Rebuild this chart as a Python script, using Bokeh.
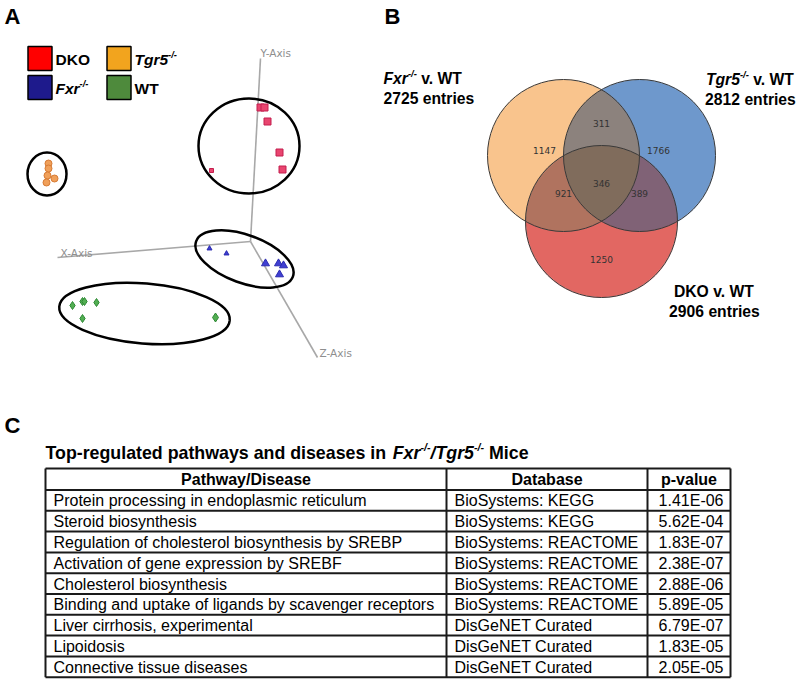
import numpy as np
from bokeh.plotting import figure
from bokeh.models import Range1d
from bokeh.embed import file_html
from bokeh.resources import INLINE
from bokeh.core.properties import value

# ---------------- data ----------------
# Panel A: PCA scores as seen in the projected 3-D view
dko_pc_x = [260, 264, 267, 279, 282, 211]
dko_pc_y = [107, 107, 121, 152, 169, 170]
dko_size = [7, 7, 7, 7, 7, 4]
fxr_pc_x = [209, 226, 265, 278, 283, 279]
fxr_pc_y = [248, 253, 263, 263, 265, 274]
fxr_size = [5, 5, 8, 8, 8, 8]
tgr5_pc_x = [48, 48, 47, 54, 46]
tgr5_pc_y = [163, 168, 175, 178, 182]
tgr5_size = [7, 7, 7, 7, 7]
wt_pc_x = [72, 82, 84, 96, 82, 215]
wt_pc_y = [305, 301, 301, 302, 318, 317]
wt_size = [8, 8, 8, 8, 8, 9]

legend_groups = ["DKO", "Fxr", "Tgr5", "WT"]
legend_colors = ["#FF0000", "#1E1A8C", "#F2A41E", "#4E8A3C"]

# Panel B: Venn diagram
venn_sets = ["Fxr", "Tgr5", "DKO"]
venn_totals = [2725, 2812, 2906]
venn_regions = ["100", "010", "001", "110", "101", "011", "111"]
venn_counts = [1147, 1766, 1250, 311, 921, 389, 346]

# Panel C: table
table_header = ["Pathway/Disease", "Database", "p-value"]
table_pathways = [
    "Protein processing in endoplasmic reticulum",
    "Steroid biosynthesis",
    "Regulation of cholesterol biosynthesis by SREBP",
    "Activation of gene expression by SREBF",
    "Cholesterol biosynthesis",
    "Binding and uptake of ligands by scavenger receptors",
    "Liver cirrhosis, experimental",
    "Lipoidosis",
    "Connective tissue diseases",
]
table_databases = [
    "BioSystems: KEGG", "BioSystems: KEGG",
    "BioSystems: REACTOME", "BioSystems: REACTOME", "BioSystems: REACTOME", "BioSystems: REACTOME",
    "DisGeNET Curated", "DisGeNET Curated", "DisGeNET Curated",
]
table_pvalues = [1.41e-06, 5.62e-04, 1.83e-07, 2.38e-07, 2.88e-06, 5.89e-05, 6.79e-07, 1.83e-05, 2.05e-05]

# ---------------- helpers ----------------
FONT = "Liberation Sans"


def Y(v):
    return [-float(t) for t in np.atleast_1d(v)]


BOLD_W = {' ': 278, '-': 333, '.': 278, '/': 278, 'A': 722, 'B': 722, 'C': 722, 'D': 722, 'E': 667,
          'F': 611, 'G': 778, 'H': 722, 'I': 278, 'K': 722, 'M': 833, 'O': 778, 'P': 667, 'T': 611,
          'W': 944, 'a': 556, 'c': 556, 'd': 611, 'e': 556, 'g': 611, 'h': 611, 'i': 278, 'l': 278,
          'n': 611, 'o': 611, 'p': 611, 'r': 389, 's': 556, 't': 333, 'u': 611, 'v': 556, 'w': 778,
          'x': 556, 'y': 556}
for d in "0123456789":
    BOLD_W[d] = 556


def text_width(s, size):
    return sum(BOLD_W.get(c, 600) for c in s) / 1000.0 * size


p = figure(width=800, height=681, x_range=Range1d(0, 800), y_range=Range1d(-681, 0),
           output_backend="svg", toolbar_location=None, min_border=0,
           x_axis_location=None, y_axis_location=None)
p.grid.visible = False
p.outline_line_color = None
p.background_fill_color = "white"
p.border_fill_color = "white"


def put(x, y, s, size, style="normal", align="left", color="black", font=FONT):
    p.text(x=[x], y=Y(y), text=[s], text_font=value(font), text_font_size=value(f"{size}px"),
           text_font_style=style, text_align=align, text_baseline="middle", text_color=color)


def rich(x, y, parts, size, align="left"):
    # parts: (text, italic, superscript); leading blanks become an x offset
    widths = [text_width(t, size * (0.6 if sup else 1.0)) for t, it, sup in parts]
    x0 = x - sum(widths) / 2.0 if align == "center" else x
    for (t, it, sup), w in zip(parts, widths):
        fs = size * 0.6 if sup else size
        yy = y - size * 0.32 if sup else y
        lead = len(t) - len(t.lstrip(" "))
        put(x0 + text_width(" " * lead, fs), yy, t.strip(" "), round(fs, 2),
            "bold italic" if it else "bold")
        x0 += w


# ---------------- panel letters ----------------
put(4, 15.5, "A", 22, "bold")
put(384, 15.5, "B", 22, "bold")
put(4, 425, "C", 22, "bold")

# ---------------- panel A ----------------
# legend
leg_x = [39.5, 39.5, 118.5, 118.5]
leg_y = [58, 87, 58, 87]
p.rect(x=leg_x, y=Y(leg_y), width=24, height=24, fill_color=legend_colors,
       line_color="black", line_width=1.5)
leg_parts = {
    "DKO": [("DKO", False, False)],
    "Fxr": [("Fxr", True, False), ("-/-", True, True)],
    "Tgr5": [("Tgr5", True, False), ("-/-", True, True)],
    "WT": [("WT", False, False)],
}
for g, lx, ly in zip(legend_groups, leg_x, leg_y):
    rich(lx + 15.5, ly + 1, leg_parts[g], 15.5)

# 3-D axes of the PCA view
p.segment(x0=[250, 250, 250], y0=Y([241, 241, 241]), x1=[260, 57, 317], y1=Y([58, 257, 357]),
          line_color="#A8A8A8", line_width=1.6)
put(260, 52, "Y-Axis", 10.5, color="#8E8E8E", font="DejaVu Sans")
put(60, 252, "X-Axis", 10.5, color="#8E8E8E", font="DejaVu Sans")
put(319, 352, "Z-Axis", 10.5, color="#8E8E8E", font="DejaVu Sans")

# samples
p.scatter(x=dko_pc_x, y=Y(dko_pc_y), size=dko_size, marker="square",
          fill_color="#E8456F", line_color="#C41E4E", line_width=1)
p.scatter(x=fxr_pc_x, y=Y(fxr_pc_y), size=fxr_size, marker="triangle",
          fill_color="#3F3FD2", line_color="#2A2AB0", line_width=1)
p.scatter(x=tgr5_pc_x, y=Y(tgr5_pc_y), size=tgr5_size, marker="circle",
          fill_color="#F0A05A", line_color="#D77B35", line_width=1)
p.scatter(x=wt_pc_x, y=Y(wt_pc_y), size=wt_size, marker="diamond",
          fill_color="#52AE52", line_color="#2F8A35", line_width=1)

# group ellipses
ell_x = [46.5, 248.5, 244, 144]
ell_y = [173.5, 145.5, 258.5, 313]
ell_w = [39, 101, 103, 171]
ell_h = [43, 95, 48, 60]
ell_a = [0, 0, -0.35, -0.08]
p.ellipse(x=ell_x, y=Y(ell_y), width=ell_w, height=ell_h, angle=ell_a,
          fill_color=None, line_color="black", line_width=2.5)

# ---------------- panel B: Venn ----------------
cx = np.array([563.0, 639.0, 601.0])
cy = np.array([155.0, 155.0, 221.0])
rad = 76.0
region_rgb = {"000": (255, 255, 255), "100": (249, 196, 141), "010": (110, 152, 204),
              "001": (226, 103, 98), "110": (140, 130, 125), "101": (176, 115, 95),
              "011": (128, 98, 118), "111": (128, 108, 92)}
bx0, bx1, by0, by1 = 485, 717, 77, 299
W, H, ss = bx1 - bx0, by1 - by0, 3
xs = bx0 + (np.arange(W * ss) + 0.5) / ss
ys = by1 - (np.arange(H * ss) + 0.5) / ss      # row 0 = bottom of the picture
XX, YY = np.meshgrid(xs, ys)
inside = [((XX - cx[i]) ** 2 + (YY - cy[i]) ** 2) <= rad ** 2 for i in range(3)]
rgb = np.zeros(XX.shape + (3,))
for key, col in region_rgb.items():
    m = np.ones(XX.shape, dtype=bool)
    for i, ch in enumerate(key):
        m &= inside[i] if ch == "1" else ~inside[i]
    rgb[m] = col
rgb = rgb.reshape(H, ss, W, ss, 3).mean(axis=(1, 3))
img = np.empty((H, W), dtype=np.uint32)
view = img.view(dtype=np.uint8).reshape((H, W, 4))
view[..., 0] = rgb[..., 0].round()
view[..., 1] = rgb[..., 1].round()
view[..., 2] = rgb[..., 2].round()
view[..., 3] = 255
p.image_rgba(image=[img], x=bx0, y=-by1, dw=W, dh=H)
p.circle(x=list(cx), y=Y(cy), radius=rad, fill_color=None, line_color="#3A3A3A", line_width=1)

region_pos = {"100": (544, 150), "010": (658, 150), "001": (601, 259), "110": (601, 123),
              "101": (563, 193), "011": (639, 193), "111": (601, 183)}
for reg, cnt in zip(venn_regions, venn_counts):
    rx, ry = region_pos[reg]
    put(rx, ry, str(cnt), 9, color="#333333", align="center", font="DejaVu Sans")

venn_label_pos = {"Fxr": (383, 78, "left"), "Tgr5": (750, 79, "center"), "DKO": (714, 291, "center")}
for s, tot in zip(venn_sets, venn_totals):
    lx, ly, al = venn_label_pos[s]
    if s == "DKO":
        parts = [("DKO v. WT", False, False)]
    else:
        parts = [(s, True, False), ("-/-", True, True), (" v. WT", False, False)]
    rich(lx, ly, parts, 15.7, align=al)
    rich(lx, ly + 19.5, [(f"{tot} entries", False, False)], 15.7, align=al)

# ---------------- panel C: table ----------------
rich(45, 452, [("Top-regulated pathways and diseases in ", False, False), ("Fxr", True, False),
               ("-/-", True, True), ("/", True, False), ("Tgr5", True, False), ("-/-", True, True),
               (" Mice", False, False)], 17.8)

col_edges = [45, 446, 647, 730]
n = len(table_pathways)
row_edges = [468.0] + [489.5 + 20.8 * i for i in range(n + 1)]
p.segment(x0=[col_edges[0]] * len(row_edges), x1=[col_edges[-1]] * len(row_edges),
          y0=Y(row_edges), y1=Y(row_edges), line_color="#1A1A1A", line_width=2)
p.segment(x0=col_edges, x1=col_edges, y0=Y([row_edges[0]] * 4), y1=Y([row_edges[-1]] * 4),
          line_color="#1A1A1A", line_width=2)

hy = (row_edges[0] + row_edges[1]) / 2
for i, h in enumerate(table_header):
    put((col_edges[i] + col_edges[i + 1]) / 2, hy + 0.5, h, 16, "bold", align="center")

centers = [(row_edges[i + 1] + row_edges[i + 2]) / 2 + 0.5 for i in range(n)]
p.text(x=[53] * n, y=Y(centers), text=table_pathways, text_font=value(FONT),
       text_font_size=value("16px"), text_align="left", text_baseline="middle", text_color="black")
p.text(x=[454] * n, y=Y(centers), text=table_databases, text_font=value(FONT),
       text_font_size=value("16px"), text_align="left", text_baseline="middle", text_color="black")
p.text(x=[723] * n, y=Y(centers), text=[f"{v:.2E}" for v in table_pvalues], text_font=value(FONT),
       text_font_size=value("16px"), text_align="right", text_baseline="middle", text_color="black")

open("out.html", "w").write(file_html(p, INLINE))
